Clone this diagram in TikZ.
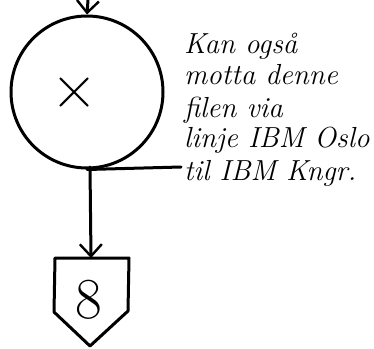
\documentclass[tikz,border=0pt]{standalone}
\usetikzlibrary{arrows.meta}
\begin{document}
\begin{tikzpicture}[x=1pt,y=-1pt,
  ink/.style={line width=3pt, line cap=round, line join=round},
  flow/.style={ink, -{Straight Barb[length=12pt,width=22pt,line width=2.4pt]}},
  note/.style={anchor=base west, inner sep=0pt, font=\fontsize{29}{32}\selectfont\itshape}]
\useasboundingbox (0,0) rectangle (374,348);
% tape symbol
\node[ink, draw, circle, minimum size=152pt, inner sep=0pt] (tape) at (87,92) {};
\node[inner sep=0pt, font=\fontsize{64}{64}\selectfont] (mark) at (75,93) {×};
\coordinate (tapeend) at (181,167);
\draw[ink] (tape.south) -- (tapeend);
% incoming arrow
\coordinate (in) at (88,0);
\draw[flow] (in) -- (tape.north);
% off-page connector
\node[inner sep=0pt, font=\fontsize{58}{58}\selectfont] (off) at (89,300) {8};
\coordinate (offtop) at (91,258);
\coordinate (offtl) at (55,258);
\coordinate (offtr) at (129,258);
\coordinate (offbl) at (54,312);
\coordinate (offbr) at (128,311);
\coordinate (offtip) at (90,346);
\draw[ink] (offtl) -- (offtr) -- (offbr) -- (offtip) -- (offbl) -- cycle;
\coordinate (outstart) at (90,167);
\draw[flow] (outstart) -- (offtop);
% note
\node[note] (n1) at (184,53) {Kan også};
\node[note] (n2) at (184,84) {motta denne};
\node[note] (n3) at (184,117) {filen via};
\node[note] (n4) at (184,147) {linje IBM Oslo};
\node[note] (n5) at (184,180) {til IBM Kngr.};
\end{tikzpicture}
\end{document}
